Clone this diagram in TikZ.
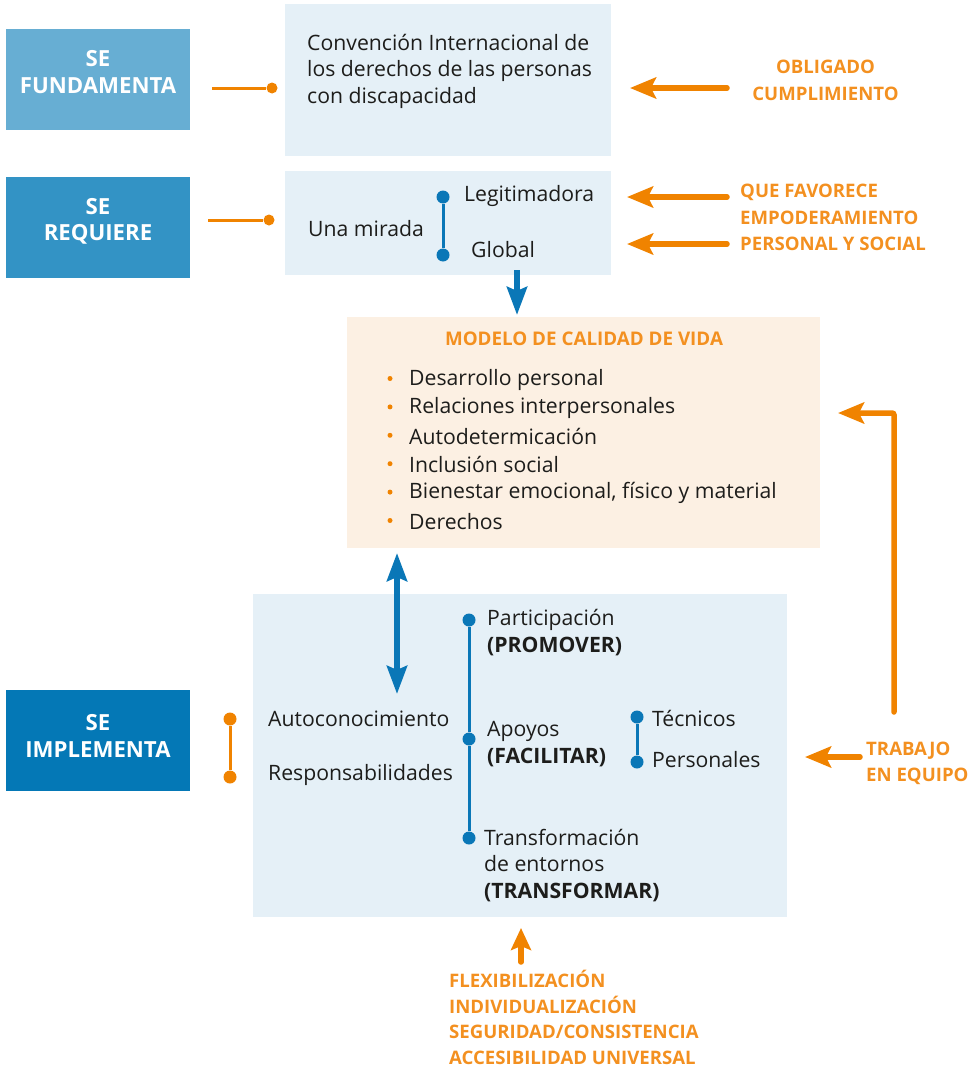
\documentclass[tikz,border=0pt]{standalone}
\usepackage{fontspec}
\setmainfont{Open Sans}
\usetikzlibrary{arrows.meta}
\definecolor{tagA}{HTML}{67AED3}
\definecolor{tagB}{HTML}{3393C5}
\definecolor{tagC}{HTML}{0478B6}
\definecolor{paleblue}{HTML}{E5F0F7}
\definecolor{paleorange}{HTML}{FCF0E3}
\definecolor{accent}{HTML}{F08300}
\definecolor{accenttext}{HTML}{F39020}
\definecolor{deepblue}{HTML}{0A77B7}
\definecolor{ink}{HTML}{1D1D1B}
\tikzset{
  tag/.style={fill=#1, draw=none, minimum width=184pt, minimum height=101pt, inner sep=0pt},
  tagtext/.style={inner sep=0pt, text=white, align=center, font=\bfseries\fontsize{22.2}{26.5}\selectfont},
  panel/.style={fill=#1, draw=none, inner sep=0pt},
  body/.style={inner sep=0pt, text=ink, align=left, font=\fontsize{21.2}{26.5}\selectfont},
  note/.style={inner sep=0pt, text=accenttext, align=left, font=\bfseries\fontsize{18.6}{26.5}\selectfont},
  heading/.style={inner sep=0pt, text=accenttext, font=\bfseries\fontsize{18.8}{22}\selectfont},
  odot/.style={circle, fill=accent, draw=none, inner sep=0pt, minimum size=11pt},
  bdot/.style={circle, fill=deepblue, draw=none, inner sep=0pt, minimum size=13pt},
  bullet/.style={circle, fill=accent, draw=none, inner sep=0pt, minimum size=5pt},
  oline/.style={draw=accent, line width=3pt},
  bline/.style={draw=deepblue, line width=3pt},
  oarrow/.style={draw=accent, line width=5.5pt, line cap=round,
    -{Stealth[length=26pt, width=21pt, inset=5pt]}},
  barrow/.style={draw=deepblue, line width=6.5pt,
    -{Stealth[length=28pt, width=20pt, inset=4pt]}},
  bbarrow/.style={draw=deepblue, line width=6.5pt,
    {Stealth[length=28pt, width=20pt, inset=4pt]}-{Stealth[length=28pt, width=20pt, inset=4pt]}},
}
\begin{document}
\begin{tikzpicture}[x=1pt, y=-1pt]
\useasboundingbox (0,0) rectangle (973,1068);

% left-hand tags
\node[tag=tagA] (fund) at (98,79.5) {};
\node[tagtext] (fundtxt) at (98,72) {SE\\FUNDAMENTA};
\node[tag=tagB] (req) at (98,227) {};
\node[tagtext] (reqtxt) at (98,221.5) {SE\\REQUIERE};
\node[tag=tagC] (impl) at (98,740) {};
\node[tagtext] (impltxt) at (98,736) {SE\\IMPLEMENTA};

% panels
\node[panel=paleblue, minimum width=326pt, minimum height=152pt] (conv) at (448,80) {};
\node[panel=paleblue, minimum width=326pt, minimum height=104pt] (mir) at (448,223) {};
\node[panel=paleorange, minimum width=473pt, minimum height=231pt] (mod) at (583.5,432.5) {};
\node[panel=paleblue, minimum width=534pt, minimum height=323pt] (imp) at (520,755.5) {};

% convention
\node[body, anchor=west] (convtxt) at (307,71) {Convención Internacional de\\los derechos de las personas\\con discapacidad};
\coordinate (fundpin) at (212,88);
\node[odot] (fundd) at (272,88) {};
\draw[oline] (fundpin) -- (fundd);

% una mirada
\node[body, anchor=west] (mirada) at (308,229) {Una mirada};
\node[body, anchor=west] (legit) at (464,196) {Legitimadora};
\node[body, anchor=west] (global) at (471,250) {Global};
\node[bdot] (md1) at (443,197) {};
\node[bdot] (md2) at (443,255) {};
\draw[bline] (md1) -- (md2);
\coordinate (reqpin) at (208,220);
\node[odot] (reqd) at (269,220) {};
\draw[oline] (reqpin) -- (reqd);

% right-hand notes at the top
\node[note, align=center] (oblig) at (825.5,80.5) {OBLIGADO\\CUMPLIMIENTO};
\coordinate (ob1) at (727,88);
\coordinate (ob2) at (630,88);
\draw[oarrow] (ob1) -- (ob2);
\node[note, anchor=west] (favor) at (740,217.5) {QUE FAVORECE\\EMPODERAMIENTO\\PERSONAL Y SOCIAL};
\coordinate (fa1) at (727,197);
\coordinate (fa2) at (627,197);
\coordinate (fb1) at (727,244);
\coordinate (fb2) at (627,244);
\draw[oarrow] (fa1) -- (fa2);
\draw[oarrow] (fb1) -- (fb2);

% mirada -> modelo
\coordinate (down1) at (517,270);
\coordinate (down2) at (517,315);
\draw[barrow] (down1) -- (down2);

% quality of life model
\node[heading] (modtitle) at (584,339) {MODELO DE CALIDAD DE VIDA};
\foreach \t [count=\i from 0] in {Desarrollo personal, Relaciones interpersonales, Autodetermicación, Inclusión social, {Bienestar emocional, físico y material}, Derechos}{
  \node[body, anchor=west] (item\i) at (409,{379.5+28.4*\i}) {\t};
  \node[bullet] (bul\i) at (390,{378.5+28.4*\i}) {};
}

% modelo <-> implementation
\coordinate (dbl1) at (397,553);
\coordinate (dbl2) at (397,694);
\draw[bbarrow] (dbl1) -- (dbl2);

% implementation panel
\node[odot, minimum size=13pt] (id1) at (230,719) {};
\node[odot, minimum size=13pt] (id2) at (230,777) {};
\draw[oline] (id1) -- (id2);
\node[body, anchor=west] (auto) at (268,719) {Autoconocimiento};
\node[body, anchor=west] (resp) at (268,775) {Responsabilidades};

\node[bdot] (pd1) at (469,620) {};
\node[bdot] (pd2) at (469,739) {};
\node[bdot] (pd3) at (469,838) {};
\draw[bline] (pd1) -- (pd2) -- (pd3);
\node[body, anchor=west] (parti) at (487,632.5) {Participación\\{\bfseries (PROMOVER)}};
\node[body, anchor=west] (apoyo) at (487,744) {Apoyos\\{\bfseries (FACILITAR)}};
\node[body, anchor=west] (transf) at (484,865.5) {Transformación\\de entornos\\{\bfseries (TRANSFORMAR)}};

\node[bdot] (td1) at (637,717) {};
\node[bdot] (td2) at (637,762) {};
\draw[bline] (td1) -- (td2);
\node[body, anchor=west] (tecn) at (652,718) {Técnicos};
\node[body, anchor=west] (pers) at (652,760) {Personales};

% teamwork
\node[note, anchor=west] (team) at (866,763.5) {TRABAJO\\EN EQUIPO};
\coordinate (tw1) at (860,757);
\coordinate (tw2) at (805,757);
\draw[oarrow] (tw1) -- (tw2);
\coordinate (up1) at (894,712);
\coordinate (up2) at (838,413);
\draw[oarrow, rounded corners=2pt] (up1) |- (up2);

% principles below
\node[note, anchor=west, font=\bfseries\fontsize{18.6}{25.7}\selectfont] (princ) at (449,1017.5) {FLEXIBILIZACIÓN\\INDIVIDUALIZACIÓN\\SEGURIDAD/CONSISTENCIA\\ACCESIBILIDAD UNIVERSAL};
\coordinate (pu1) at (521,962);
\coordinate (pu2) at (521,928);
\draw[oarrow, -{Stealth[length=22pt, width=20pt, inset=4pt]}] (pu1) -- (pu2);
\end{tikzpicture}
\end{document}
